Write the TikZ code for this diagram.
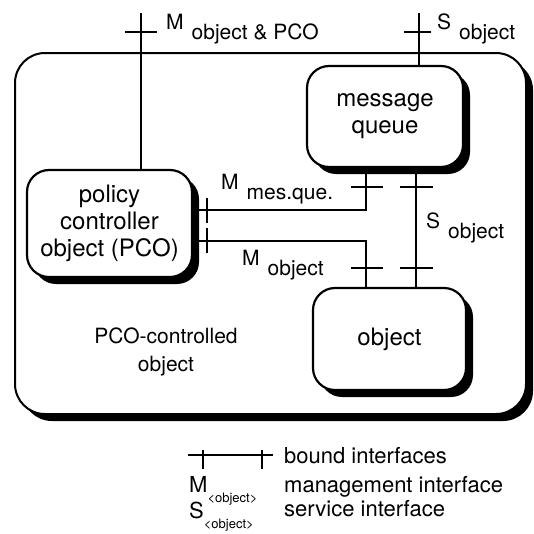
\documentclass[tikz,border=0pt]{standalone}
\usepackage{fontspec}
\setmainfont{TeX Gyre Heros}
\usetikzlibrary{shadows}
\newcommand{\portlbl}[2]{#1\hspace{8pt}\raisebox{-10pt}{#2}}
\newcommand{\keylbl}[2]{#1\raisebox{-10pt}{\fontsize{13}{13}\selectfont #2}}

\begin{document}
\begin{tikzpicture}[x=1pt,y=-1pt,
    box/.style = {draw, line width=2.2pt, fill=white, rounded corners=22pt, align=center,
        font=\fontsize{24}{27}\selectfont,
        drop shadow={shadow xshift=7pt, shadow yshift=-7pt, fill=black, opacity=1}},
    outer/.style = {box, line width=2pt, rounded corners=30pt},
    wire/.style = {line width=1.6pt},
    lbl/.style = {anchor=base west, inner sep=0pt, font=\fontsize{21}{25}\selectfont}]
    \useasboundingbox (0,0) rectangle (534,533);
    % boxes
    \node[outer, minimum width=511pt, minimum height=361pt] (pcobj) at (270.5,233.5) {};
    \node[align=center, font=\fontsize{21}{28}\selectfont] (pcotxt) at (166,352) {PCO-controlled\\object};
    \node[box, minimum width=156pt, minimum height=101pt] (mq) at (385,116.5) {message\\queue};
    \node[box, minimum width=165pt, minimum height=107pt] (pco) at (109.5,223.5) {policy\\controller\\object (PCO)};
    \node[box, minimum width=153pt, minimum height=102pt] (obj) at (389.5,339) {object};
    % interface points
    \coordinate (mtop) at (141,13);
    \coordinate (stop) at (419,13);
    \coordinate (mup) at (366,210);
    \coordinate (mlow) at (366,241);
    \coordinate (sx) at (416,0);
    % bindings
    \draw[wire] (mtop) -- (mtop |- pco.north);
    \draw[wire] (stop) -- (stop |- mq.north);
    \draw[wire] (pco.east |- mup) -- (mup) -- (mup |- mq.south);
    \draw[wire] (pco.east |- mlow) -- (mlow) -- (mlow |- obj.north);
    \draw[wire] (sx |- mq.south) -- (sx |- obj.north);
    % ticks
    \draw[wire] (125,32) -- (157,32);
    \draw[wire] (404,32) -- (431,32);
    \draw[wire] (351,187) -- (383,187);
    \draw[wire] (400,187) -- (433,187);
    \draw[wire] (351,268) -- (383,268);
    \draw[wire] (400,268) -- (433,268);
    \draw[wire] (207,198) -- (207,223);
    \draw[wire] (207,228) -- (207,253);
    % labels
    \node[lbl] (mtoplbl) at (166,29) {\portlbl{M}{object \& PCO}};
    \node[lbl] (stoplbl) at (437,29) {\portlbl{S}{object}};
    \node[lbl] (mmqlbl) at (221,189) {\portlbl{M}{mes.que.}};
    \node[lbl] (smidlbl) at (426,228) {\portlbl{S}{object}};
    \node[lbl] (mobjlbl) at (242,265) {\portlbl{M}{object}};
    % legend
    \coordinate (keyl) at (188,455);
    \coordinate (keyr) at (273,455);
    \draw[wire] (keyl) -- (keyr);
    \draw[wire] (203,450) -- (203,469);
    \draw[wire] (262,450) -- (262,469);
    \node[lbl, font=\fontsize{22}{26}\selectfont] (bound) at (284,463) {bound interfaces};
    \node[lbl, font=\fontsize{22}{26}\selectfont] (mkey) at (189,492) {\keylbl{M}{<object>}};
    \node[lbl, font=\fontsize{22}{26}\selectfont] (mtext) at (284,492) {management interface};
    \node[lbl, font=\fontsize{22}{26}\selectfont] (skey) at (189,518) {\keylbl{S}{<object>}};
    \node[lbl, font=\fontsize{22}{26}\selectfont] (stext) at (284,516) {service interface};
\end{tikzpicture}
\end{document}
